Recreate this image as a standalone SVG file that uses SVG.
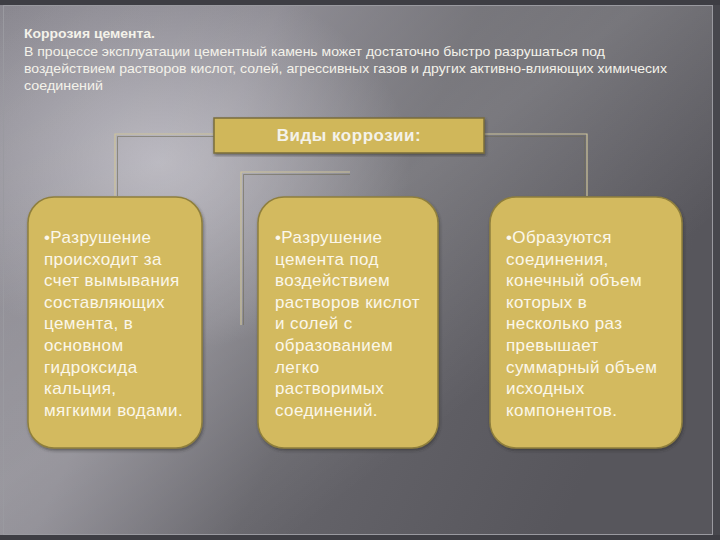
<svg xmlns="http://www.w3.org/2000/svg" width="720" height="540" viewBox="0 0 720 540">
<defs>
<linearGradient id="bg" x1="0" y1="0" x2="1" y2="0.35">
<stop offset="0" stop-color="#8a8890"/>
<stop offset="0.35" stop-color="#87858d"/>
<stop offset="0.6" stop-color="#66656b"/>
<stop offset="1" stop-color="#57565c"/>
</linearGradient>
<radialGradient id="hl" cx="0.22" cy="0.3" r="0.35">
<stop offset="0" stop-color="#c9c7cf" stop-opacity="0.7"/>
<stop offset="1" stop-color="#c9c7cf" stop-opacity="0"/>
</radialGradient>
<linearGradient id="streak" x1="0" y1="0" x2="1" y2="1">
<stop offset="0" stop-color="#ffffff" stop-opacity="0"/>
<stop offset="0.45" stop-color="#ffffff" stop-opacity="0.15"/>
<stop offset="0.7" stop-color="#ffffff" stop-opacity="0"/>
</linearGradient>
<filter id="sh" x="-10%" y="-10%" width="120%" height="120%">
<feDropShadow dx="1" dy="2" stdDeviation="1.5" flood-color="#2a2a2a" flood-opacity="0.5"/>
</filter>
</defs>
<style>
.t{font-family:"Liberation Sans",Arial,sans-serif;fill:#f4f2ea}
.hdr{font-size:13px}
.bx{fill:#d3ba5f;stroke:#8f7f3c;stroke-width:1.5}
.bt{font-size:17px;letter-spacing:0.4px;fill:#fbf7ea}
.cl{fill:none;stroke:#cdc49c;stroke-width:1.2}
.cd{fill:none;stroke:#6e6a58;stroke-width:1;stroke-opacity:0.6}
</style>
<rect width="720" height="540" fill="url(#bg)"/>
<rect width="720" height="540" fill="url(#hl)"/>
<rect width="720" height="540" fill="url(#streak)"/>
<rect x="0" y="0" width="720" height="5" fill="#3e3e44"/>
<rect x="0" y="535" width="720" height="5" fill="#3e3e44"/>
<rect x="3.5" y="5.5" width="709" height="529" fill="none" stroke="#9a9aa0" stroke-width="1"/>
<rect x="713" y="5" width="7" height="530" fill="#47474d"/>

<g id="title">
<text class="t" x="24" y="38" font-size="12.5px" font-weight="bold" textLength="131" lengthAdjust="spacingAndGlyphs">Коррозия цемента.</text>
<text class="t hdr" x="24" y="56" textLength="581" lengthAdjust="spacingAndGlyphs">В процессе эксплуатации цементный камень может достаточно быстро разрушаться под</text>
<text class="t hdr" x="24" y="73" textLength="643" lengthAdjust="spacingAndGlyphs">воздействием растворов кислот, солей, агрессивных газов и других активно-влияющих химичесих</text>
<text class="t hdr" x="24" y="90" textLength="79" lengthAdjust="spacingAndGlyphs">соединений</text>
</g>

<g id="connectors">
<polyline class="cl" points="214,134 115,134 115,196"/>
<polyline class="cd" points="214,136.5 117.5,136.5 117.5,196"/>
<polyline class="cl" points="350,172 241,172 241,325"/>
<polyline class="cd" points="350,174.5 243.5,174.5 243.5,325"/>
<polyline class="cl" points="484,134 587,134 587,196"/>
<polyline class="cd" points="484,136.5 584.5,136.5 584.5,196"/>
</g>

<g id="header">
<rect x="214" y="118" width="270" height="35" fill="#d0b75a" stroke="#7a6d3c" stroke-width="1.5" filter="url(#sh)"/>
<text class="t" x="349" y="141" font-size="17px" font-weight="bold" letter-spacing="0.5" text-anchor="middle">Виды коррозии:</text>
</g>

<g id="box1">
<rect class="bx" x="28" y="197" width="174" height="251" rx="26" filter="url(#sh)"/>
<text class="t bt" x="44" y="243">
<tspan x="44">•Разрушение</tspan>
<tspan x="44" dy="21.6">происходит за</tspan>
<tspan x="44" dy="21.6">счет вымывания</tspan>
<tspan x="44" dy="21.6">составляющих</tspan>
<tspan x="44" dy="21.6">цемента, в</tspan>
<tspan x="44" dy="21.6">основном</tspan>
<tspan x="44" dy="21.6">гидроксида</tspan>
<tspan x="44" dy="21.6">кальция,</tspan>
<tspan x="44" dy="21.6">мягкими водами.</tspan>
</text>
</g>

<g id="box2">
<rect class="bx" x="258" y="197" width="180" height="251" rx="26" filter="url(#sh)"/>
<text class="t bt" x="275" y="243">
<tspan x="275">•Разрушение</tspan>
<tspan x="275" dy="21.6">цемента под</tspan>
<tspan x="275" dy="21.6">воздействием</tspan>
<tspan x="275" dy="21.6">растворов кислот</tspan>
<tspan x="275" dy="21.6">и солей с</tspan>
<tspan x="275" dy="21.6">образованием</tspan>
<tspan x="275" dy="21.6">легко</tspan>
<tspan x="275" dy="21.6">растворимых</tspan>
<tspan x="275" dy="21.6">соединений.</tspan>
</text>
</g>

<g id="box3">
<rect class="bx" x="490" y="197" width="192" height="251" rx="26" filter="url(#sh)"/>
<text class="t bt" x="506" y="243">
<tspan x="506">•Образуются</tspan>
<tspan x="506" dy="21.6">соединения,</tspan>
<tspan x="506" dy="21.6">конечный объем</tspan>
<tspan x="506" dy="21.6">которых в</tspan>
<tspan x="506" dy="21.6">несколько раз</tspan>
<tspan x="506" dy="21.6">превышает</tspan>
<tspan x="506" dy="21.6">суммарный объем</tspan>
<tspan x="506" dy="21.6">исходных</tspan>
<tspan x="506" dy="21.6">компонентов.</tspan>
</text>
</g>
</svg>
